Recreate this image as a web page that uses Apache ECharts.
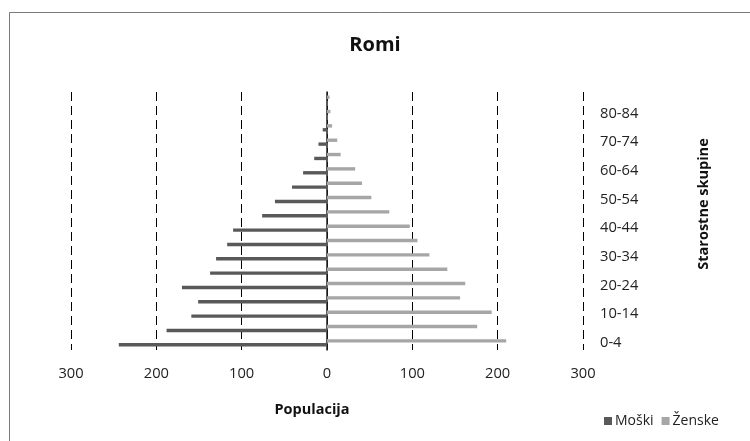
<!DOCTYPE html>
<html>
<head>
<meta charset="utf-8">
<script src="https://cdn.jsdelivr.net/npm/echarts@6/dist/echarts.min.js"></script>
<style>
  html, body { margin: 0; padding: 0; background: #fff; }
  #chart { width: 750px; height: 441px; }
</style>
</head>
<body>
<div id="chart"></div>
<script>
// starostne skupine (od spodaj navzgor)
const ageGroups = ['0-4', '5-9', '10-14', '15-19', '20-24', '25-29', '30-34', '35-39', '40-44',
    '45-49', '50-54', '55-59', '60-64', '65-69', '70-74', '75-79', '80-84', '85+'];
// moški - rišemo v levo (negativno)
const maleValues = [244, 188, 159, 151, 170, 137, 130, 117, 110, 76, 61, 41, 28, 15, 10, 5, 1, 1];
// ženske - v desno
const femaleValues = [210, 176, 193, 156, 162, 141, 120, 106, 97, 73, 52, 41, 33, 16, 12, 6, 4, 3];
const xTicks = [-300, -200, -100, 0, 100, 200, 300];

const chart = echarts.init(document.getElementById('chart'));
const font = '"Open Sans", "Noto Sans", sans-serif';

let option = {
    animation: false,
    textStyle: { fontFamily: font },
    title: {
        text: 'Romi',
        left: 'center',
        top: 30,
        textStyle: { fontSize: 20, fontWeight: 'bold', color: '#111', fontFamily: font }
    },
    legend: {
        data: ['Moški', 'Ženske'],
        left: 604,
        top: 414,
        padding: 0,
        icon: 'rect',
        itemWidth: 8,
        itemHeight: 8,
        itemGap: 8,
        textStyle: { fontSize: 14, color: '#222', padding: [0, 0, 0, -2] }
    },
    grid: { left: 71, right: 167, top: 92, bottom: 91 },
    xAxis: {
        type: 'value',
        min: xTicks[0],
        max: xTicks[xTicks.length - 1],
        interval: 100,
        name: 'Populacija',
        nameLocation: 'middle',
        nameGap: 52,
        nameTextStyle: { fontSize: 14.5, fontWeight: 'bold', color: '#111', padding: [0, 30, 0, 0] },
        axisLine: { show: false },
        axisTick: { show: false },
        axisLabel: {
            fontSize: 14.7,
            color: '#222',
            margin: 16,
            formatter: v => Math.abs(v)
        },
        splitLine: { lineStyle: { color: '#000', type: [9, 5], width: 1 } }
    },
    yAxis: [
        {
            type: 'category',
            data: ageGroups,
            position: 'right',
            name: 'Starostne skupine',
            nameLocation: 'middle',
            nameRotate: 90,
            nameGap: 113,
            nameTextStyle: { fontSize: 14.5, fontWeight: 'bold', color: '#111', padding: [0, 0, 0, 34] },
            axisLine: { show: false, onZero: false },
            axisTick: { show: false },
            axisLabel: { interval: 1, fontSize: 14.7, color: '#222', margin: 17 }
        },
        {
            // navpična črta pri 0
            type: 'category',
            data: ageGroups,
            axisLine: { show: true, onZero: true, lineStyle: { color: '#222', width: 1.5 } },
            axisTick: { show: false },
            axisLabel: { show: false }
        }
    ],
    series: [
        {
            name: 'Ženske',
            type: 'bar',
            barWidth: 3.4,
            barGap: '15%',
            itemStyle: { color: '#a6a6a6' },
            data: femaleValues
        },
        {
            name: 'Moški',
            type: 'bar',
            barWidth: 3.4,
            barGap: '15%',
            itemStyle: { color: '#595959' },
            data: maleValues.map(v => -v)
        }
    ],
    graphic: [
        {
            type: 'rect',
            shape: { x: 9.5, y: 12.5, width: 800, height: 500 },
            style: { fill: 'none', stroke: '#7a7a7a', lineWidth: 1 },
            silent: true
        }
    ]
};

chart.setOption(option);
</script>
</body>
</html>
